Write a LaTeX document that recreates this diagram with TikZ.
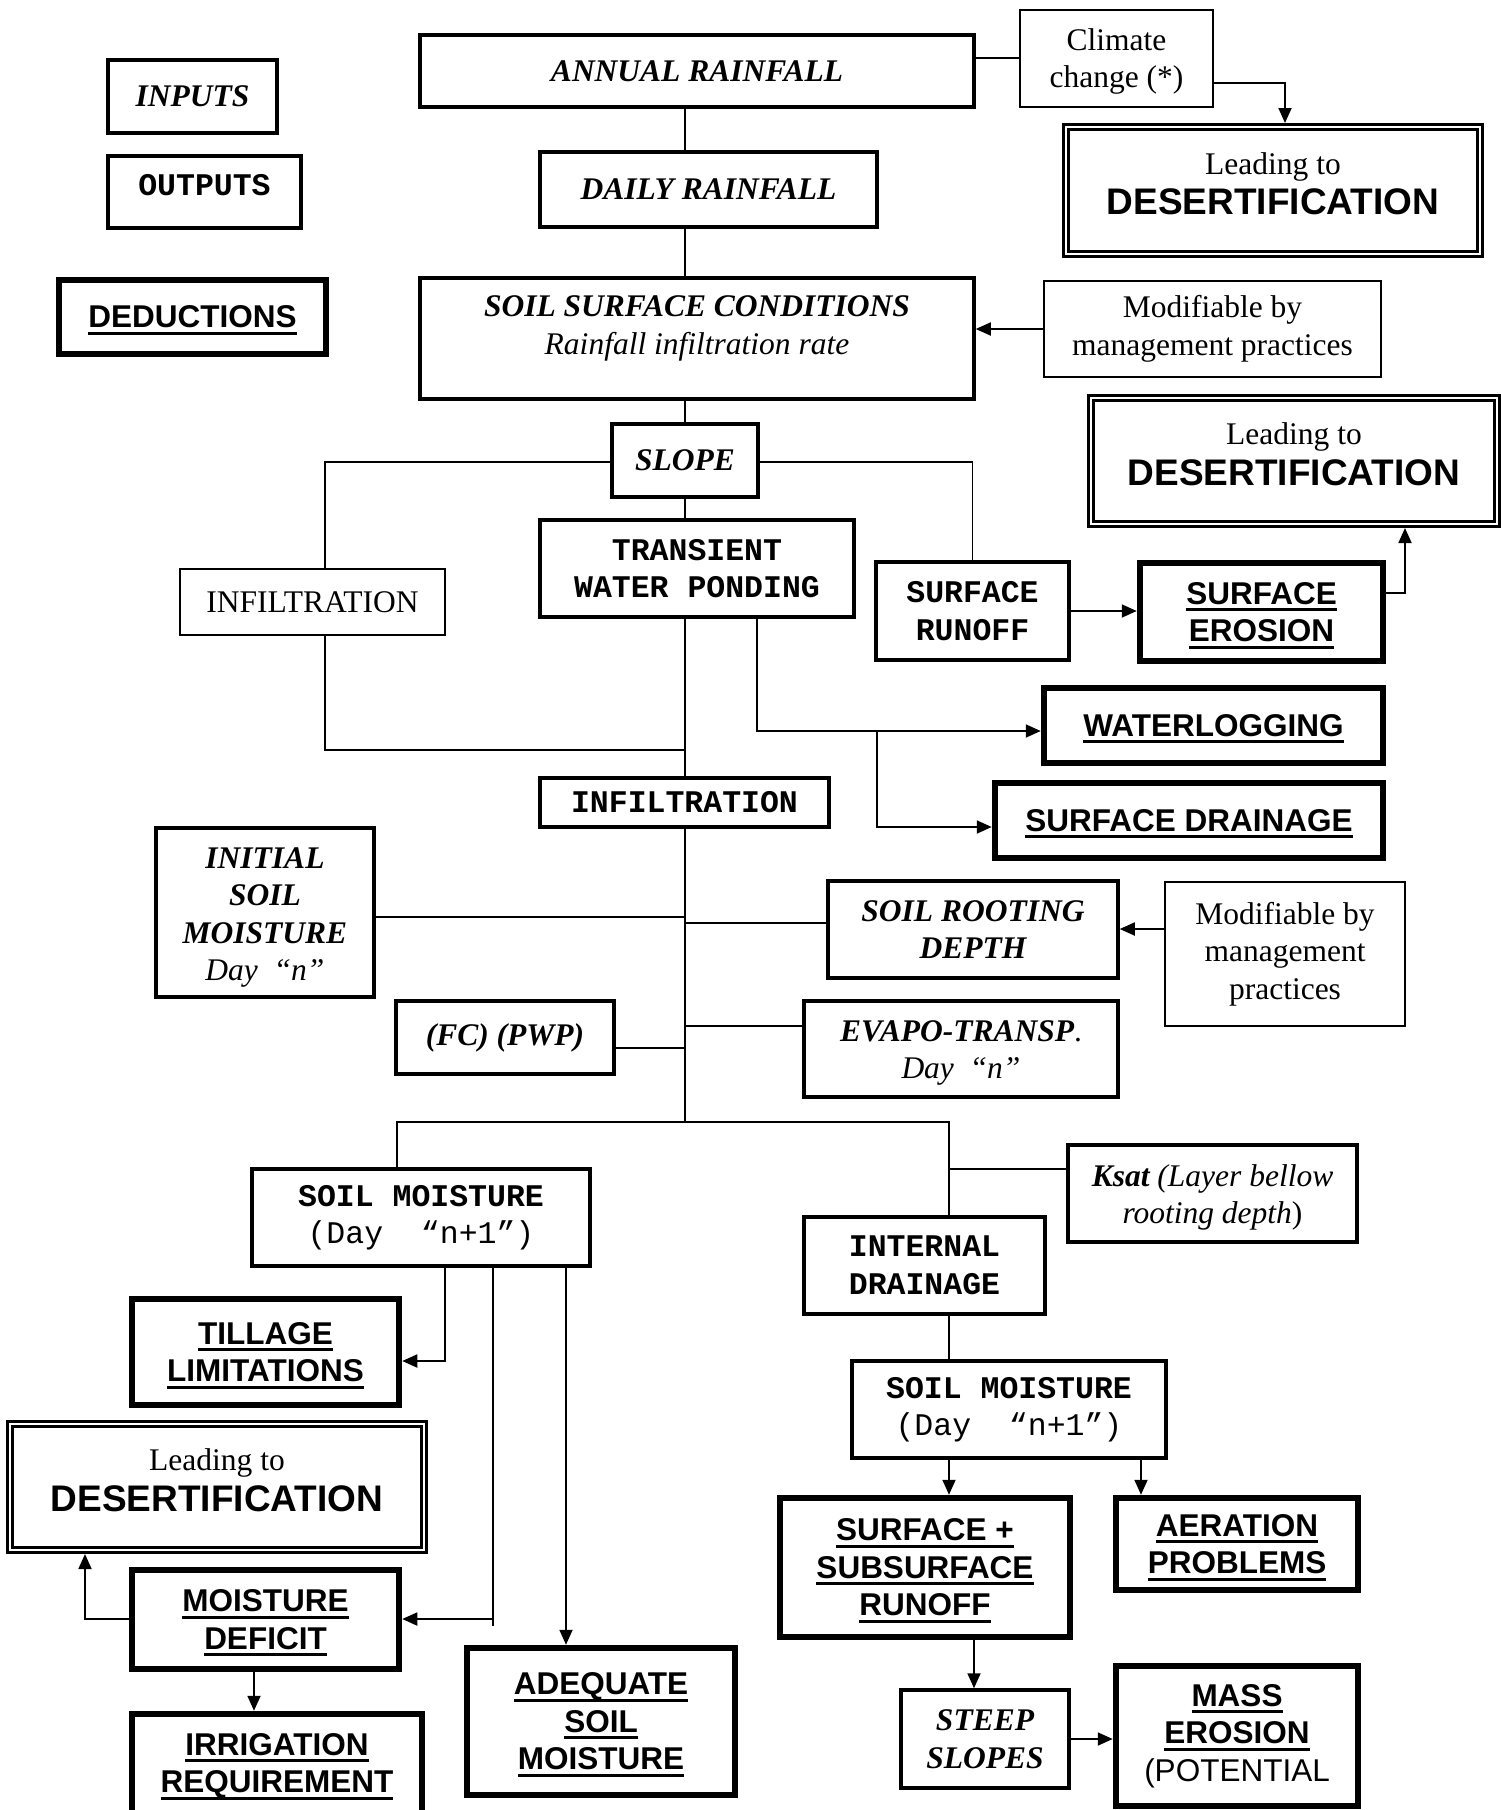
\documentclass[tikz,border=0pt]{standalone}
\usepackage{fontspec}
\setmainfont{Liberation Serif}
\setsansfont{Liberation Sans}
\setmonofont{Liberation Mono}
\usetikzlibrary{arrows.meta}
\newcommand{\fsz}{\fontsize{31.5}{37.5}\selectfont}
\newcommand{\desf}{\sffamily\bfseries\fontsize{37}{40}\selectfont}
\newcommand{\undl}[1]{\setbox0\hbox{#1}\rlap{\smash{\rule[-7pt]{\wd0}{3pt}}}\box0}
\newcommand{\bx}[7]{%
  \pgfmathsetmacro\bxw{#5-#3}\pgfmathsetmacro\bxh{#6-#4}%
  \pgfmathsetmacro\bxx{(#3+#5)/2}\pgfmathsetmacro\bxy{(#4+#6)/2}%
  \node[#1, minimum width=\bxw pt, minimum height=\bxh pt] (#2) at (\bxx,\bxy) {#7};}
\tikzset{
  lnk/.style={line width=1.8pt},
  arr/.style={line width=1.8pt,-{Triangle[length=15pt,width=13pt]}},
  basebox/.style={draw,inner sep=0pt,align=center,font=\fsz},
  thinbox/.style={basebox,line width=2pt},
  medbox/.style={basebox,line width=3.5pt},
  thickbox/.style={basebox,line width=6.5pt,font=\fsz\sffamily\bfseries},
  dblbox/.style={basebox,line width=2.7pt,double,double distance=2.5pt,outer sep=4pt},
  tib/.style={font=\fsz\bfseries\itshape},
  ti/.style={font=\fsz\itshape},
  cou/.style={font=\fsz\ttfamily\bfseries},
  txt/.style={inner sep=0pt,align=center,font=\fsz},
}
\begin{document}
\begin{tikzpicture}[x=1pt,y=-1pt]
\useasboundingbox (0,0) rectangle (1501,1810);
\clip (0,0) rectangle (1501,1810);
% ---------------- boxes ----------------
\bx{medbox,tib}{inputs}{108}{60}{277}{133}{INPUTS}
\bx{medbox}{outputs}{108}{156}{301}{228}{}
\node[txt,cou] (outputs-t) at ([yshift=7pt]outputs.center) {OUTPUTS};
\bx{thickbox}{deductions}{59}{280}{326}{354}{\undl{DEDUCTIONS}}
\bx{medbox,tib}{annual}{420}{35}{974}{107}{ANNUAL RAINFALL}
\bx{thinbox}{climate}{1020}{10}{1213}{107}{}
\node[txt] (climate-t) at ([yshift=-3pt]climate.center) {Climate\\change (*)};
\bx{dblbox}{desertA}{1066}{127}{1480}{254}{}
\node[txt] (desertA-t) at ([yshift=7pt]desertA.center) {Leading to\\[3pt]{\desf DESERTIFICATION}};
\bx{medbox,tib}{daily}{540}{152}{877}{227}{DAILY RAINFALL}
\bx{medbox}{ssc}{420}{278}{974}{399}{}
\node[txt,ti] (ssc-t) at ([yshift=10pt]ssc.center) {{\bfseries SOIL SURFACE CONDITIONS}\\Rainfall infiltration rate};
\bx{thinbox}{modA}{1044}{281}{1381}{377}{Modifiable by\\management practices}
\bx{medbox,tib}{slope}{612}{424}{758}{497}{SLOPE}
\bx{dblbox}{desertB}{1091}{398}{1497}{524}{}
\node[txt] (desertB-t) at ([yshift=7pt]desertB.center) {Leading to\\[3pt]{\desf DESERTIFICATION}};
\bx{thinbox}{infilA}{180}{569}{445}{635}{INFILTRATION}
\bx{medbox,cou}{transient}{540}{520}{854}{617}{TRANSIENT\\WATER PONDING}
\bx{medbox,cou}{srunoff}{876}{562}{1069}{660}{SURFACE\\RUNOFF}
\bx{thickbox}{serosion}{1140}{563}{1383}{661}{\undl{SURFACE}\\\undl{EROSION}}
\bx{thickbox}{waterlog}{1044}{688}{1383}{763}{\undl{WATERLOGGING}}
\bx{thickbox}{sdrain}{995}{783}{1383}{858}{\undl{SURFACE DRAINAGE}}
\bx{medbox,cou}{infilB}{540}{778}{829}{827}{INFILTRATION}
\bx{medbox}{initial}{156}{828}{374}{997}{}
\node[txt,tib] (initial-t) at ([yshift=-5pt]initial.center) {INITIAL\\SOIL\\MOISTURE\\{\mdseries Day\ \ “n”}};
\bx{medbox,tib}{srdepth}{828}{881}{1118}{978}{SOIL ROOTING\\DEPTH}
\bx{thinbox}{modB}{1165}{882}{1405}{1026}{Modifiable by\\management\\practices}
\bx{medbox,tib}{fcpwp}{396}{1001}{614}{1074}{(FC) (PWP)}
\bx{medbox}{evapo}{804}{1001}{1118}{1097}{}
\node[txt,tib] (evapo-t) at ([yshift=-4pt]evapo.center) {EVAPO-TRANSP{\mdseries\upshape .}\\{\mdseries Day\ \ “n”}};
\bx{medbox,cou}{smA}{252}{1169}{590}{1266}{SOIL MOISTURE\\{\mdseries (Day\ \ “n+1”)}}
\bx{medbox}{ksat}{1068}{1145}{1357}{1242}{}
\node[txt,ti] (ksat-t) at ([yshift=-4pt]ksat.center) {{\bfseries Ksat} (Layer bellow\\rooting depth{\upshape )}};
\bx{medbox,cou}{internal}{804}{1217}{1045}{1314}{INTERNAL\\DRAINAGE}
\bx{thickbox}{tillage}{132}{1299}{399}{1405}{\undl{TILLAGE}\\\undl{LIMITATIONS}}
\bx{dblbox}{desertC}{10}{1424}{424}{1550}{}
\node[txt] (desertC-t) at ([yshift=7pt]desertC.center) {Leading to\\[3pt]{\desf DESERTIFICATION}};
\bx{medbox,cou}{smB}{852}{1361}{1166}{1458}{SOIL MOISTURE\\{\mdseries (Day\ \ “n+1”)}}
\bx{thickbox}{mdef}{132}{1570}{399}{1669}{\undl{MOISTURE}\\\undl{DEFICIT}}
\bx{thickbox}{ssrun}{780}{1498}{1070}{1637}{\undl{SURFACE +}\\\undl{SUBSURFACE}\\\undl{RUNOFF}}
\bx{thickbox}{aeration}{1116}{1498}{1358}{1590}{\undl{AERATION}\\\undl{PROBLEMS}}
\bx{thickbox}{irrig}{132}{1714}{422}{1818}{\undl{IRRIGATION}\\\undl{REQUIREMENT}}
\bx{thickbox}{adequate}{467}{1648}{735}{1795}{\undl{ADEQUATE}\\\undl{SOIL}\\\undl{MOISTURE}}
\bx{medbox,tib}{steep}{901}{1690}{1069}{1788}{STEEP\\SLOPES}
\bx{thickbox}{mass}{1116}{1666}{1358}{1806}{\undl{MASS}\\\undl{EROSION}\\{\mdseries (POTENTIAL}}
% ---------------- helper coordinates ----------------
\coordinate (sp) at (685,0);
\coordinate (y58) at (0,58);
\coordinate (y83) at (0,83);
\coordinate (x1285) at (1285,0);
\coordinate (y329) at (0,329);
\coordinate (y462) at (0,462);
\coordinate (x325) at (325,0);
\coordinate (y750) at (0,750);
\coordinate (x757) at (757,0);
\coordinate (y731) at (0,731);
\coordinate (bjn) at (877,731);
\coordinate (y827) at (0,827);
\coordinate (y611) at (0,611);
\coordinate (y593) at (0,593);
\coordinate (x1405) at (1405,0);
\coordinate (y1122) at (0,1122);
\coordinate (y917) at (0,917);
\coordinate (y923) at (0,923);
\coordinate (y929) at (0,929);
\coordinate (y1048) at (0,1048);
\coordinate (y1026) at (0,1026);
\coordinate (x397) at (397,0);
\coordinate (x949) at (949,0);
\coordinate (y1169) at (0,1169);
\coordinate (x1141) at (1141,0);
\coordinate (x974) at (974,0);
\coordinate (y1739) at (0,1739);
\coordinate (x445) at (445,0);
\coordinate (y1361) at (0,1361);
\coordinate (x493) at (493,0);
\coordinate (y1626) at (0,1626);
\coordinate (y1619) at (0,1619);
\coordinate (x566) at (566,0);
\coordinate (x85) at (85,0);
\coordinate (x254) at (254,0);
% ---------------- connectors ----------------
\draw[lnk] (annual.east |- y58) -- (climate.west |- y58);
\draw[arr] (climate.east |- y83) -| (desertA.north -| x1285);
\draw[lnk] (annual.south -| sp) -- (daily.north -| sp);
\draw[lnk] (daily.south -| sp) -- (ssc.north -| sp);
\draw[arr] (modA.west |- y329) -- (ssc.east |- y329);
\draw[lnk] (ssc.south -| sp) -- (slope.north -| sp);
\draw[lnk] (slope.west |- y462) -| (infilA.north -| x325);
\draw[lnk] (infilA.south -| x325) |- (y750 -| sp);
\draw[lnk] (slope.east |- y462) -| (srunoff.north);
\draw[lnk] (slope.south -| sp) -- (transient.north -| sp);
\draw[lnk] (transient.south -| sp) -- (infilB.north -| sp);
\draw[arr] (transient.south -| x757) |- (waterlog.west |- y731);
\draw[arr] (bjn) |- (sdrain.west |- y827);
\draw[arr] (srunoff.east |- y611) -- (serosion.west |- y611);
\draw[arr] (serosion.east |- y593) -| (desertB.south -| x1405);
\draw[lnk] (infilB.south -| sp) -- (y1122 -| sp);
\draw[lnk] (initial.east |- y917) -- (y917 -| sp);
\draw[lnk] (y923 -| sp) -- (srdepth.west |- y923);
\draw[arr] (modB.west |- y929) -- (srdepth.east |- y929);
\draw[lnk] (fcpwp.east |- y1048) -- (y1048 -| sp);
\draw[lnk] (y1026 -| sp) -- (evapo.west |- y1026);
\draw[lnk] (smA.north -| x397) |- (y1122 -| x949) -- (internal.north -| x949);
\draw[lnk] (ksat.west |- y1169) -- (y1169 -| x949);
\draw[lnk] (internal.south -| x949) -- (smB.north -| x949);
\draw[arr] (smB.south -| x949) -- (ssrun.north -| x949);
\draw[arr] (smB.south -| x1141) -- (aeration.north -| x1141);
\draw[arr] (ssrun.south -| x974) -- (steep.north -| x974);
\draw[arr] (steep.east |- y1739) -- (mass.west |- y1739);
\draw[arr] (smA.south -| x445) |- (tillage.east |- y1361);
\draw[lnk] (smA.south -| x493) -- (y1626 -| x493);
\draw[arr] (y1619 -| x493) -- (mdef.east |- y1619);
\draw[arr] (smA.south -| x566) -- (adequate.north -| x566);
\draw[arr] (mdef.west |- y1619) -| (desertC.south -| x85);
\draw[arr] (mdef.south -| x254) -- (irrig.north -| x254);
\end{tikzpicture}
\end{document}
